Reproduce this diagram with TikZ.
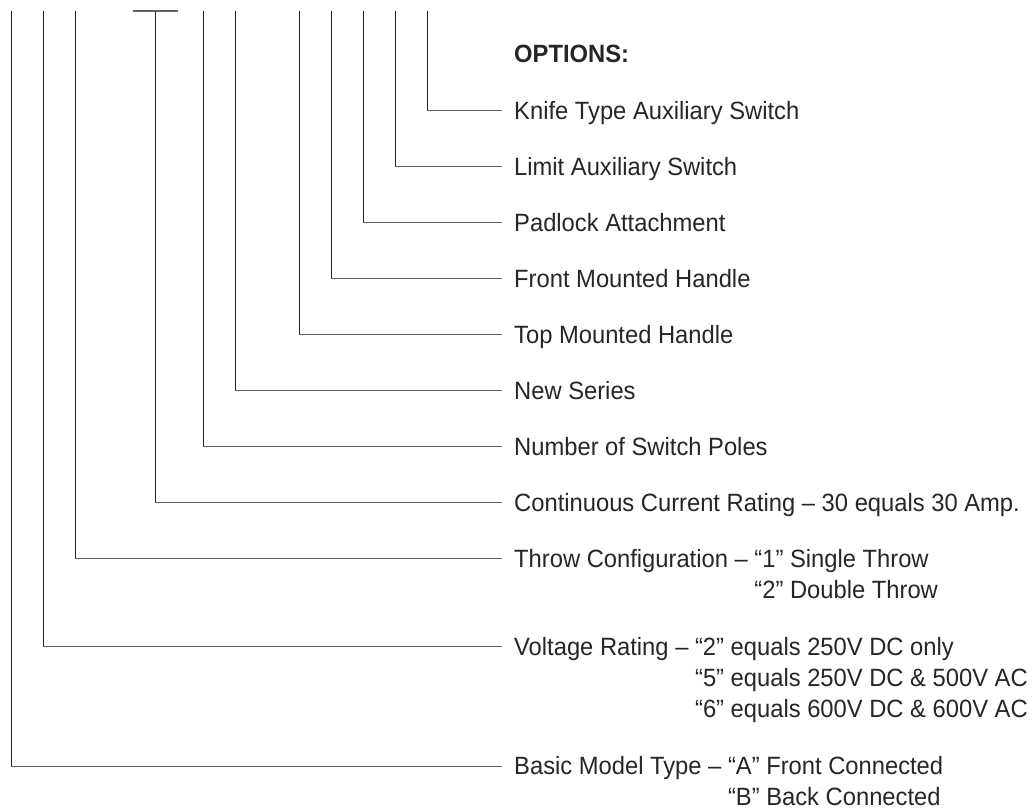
\documentclass[tikz,border=0pt]{standalone}
\usepackage{fontspec}
\setmainfont{Liberation Sans}[FakeStretch=0.95]
\begin{document}
\begin{tikzpicture}[x=1pt,y=-1pt,
  vline/.style={line width=1pt,draw=black!85},
  hline/.style={line width=1.3pt,draw=black!62},
  lbl/.style={anchor=base west,inner sep=0pt,align=left,font=\fontsize{25}{31}\selectfont,text=black!85},
  hdr/.style={anchor=base west,inner sep=0pt,font=\bfseries\fontsize{25}{31}\selectfont,text=black!85}]
\useasboundingbox (0,0) rectangle (1032,810);
% top ends of the vertical lines
\coordinate (tA) at (11,11.5);
\coordinate (tV) at (43,11.5);
\coordinate (tT) at (75,11.5);
\coordinate (tC) at (155,11.5);
\coordinate (tN) at (203,11.5);
\coordinate (tS) at (235,11.5);
\coordinate (tTop) at (299,11.5);
\coordinate (tF) at (331,11.5);
\coordinate (tP) at (363,11.5);
\coordinate (tL) at (395,11.5);
\coordinate (tK) at (427,11.5);
% bar over the current-rating digits
\coordinate (cbL) at (133,11);
\coordinate (cbR) at (178,11);
\draw[hline] (cbL) -- (cbR);
% header
\node[hdr] (opt) at (514,63) {OPTIONS:};
% labels (base anchor of a multi-line node is its last line)
\node[lbl] (lK) at (514,119.5) {Knife Type Auxiliary Switch};
\node[lbl] (lL) at (514,175.5) {Limit Auxiliary Switch};
\node[lbl] (lP) at (514,231.5) {Padlock Attachment};
\node[lbl] (lF) at (514,287.5) {Front Mounted Handle};
\node[lbl] (lTop) at (514,343.5) {Top Mounted Handle};
\node[lbl] (lS) at (514,399.5) {New Series};
\node[lbl] (lN) at (514,455.5) {Number of Switch Poles};
\node[lbl] (lC) at (514,511.5) {Continuous Current Rating – 30 equals 30 Amp.};
\node[lbl] (lT) at (514,598.5) {Throw Configuration – “1” Single Throw\\\phantom{Throw Configuration – }“2” Double Throw};
\node[lbl] (lV) at (514,717.5) {Voltage Rating – “2” equals 250V DC only\\\phantom{Voltage Rating – }“5” equals 250V DC \& 500V AC\\\phantom{Voltage Rating – }“6” equals 600V DC \& 600V AC};
\node[lbl] (lA) at (514,805.5) {Basic Model Type – “A” Front Connected\\\phantom{Basic Model Type – }“B” Back Connected};
% connectors: vertical from the top, then across to just before the label
\foreach \n/\yy in {K/110.7,L/166.7,P/222.7,F/278.7,Top/334.7,S/390.7,N/446.7,C/502.7,T/558.7,V/646.7,A/766.7}{
  \coordinate (e\n) at (502,\yy);
  \coordinate (c\n) at (t\n |- e\n);
  \draw[vline] (t\n) -- (c\n);
  \draw[hline] ([xshift=-0.5pt]c\n) -- (e\n);
}
\end{tikzpicture}
\end{document}
